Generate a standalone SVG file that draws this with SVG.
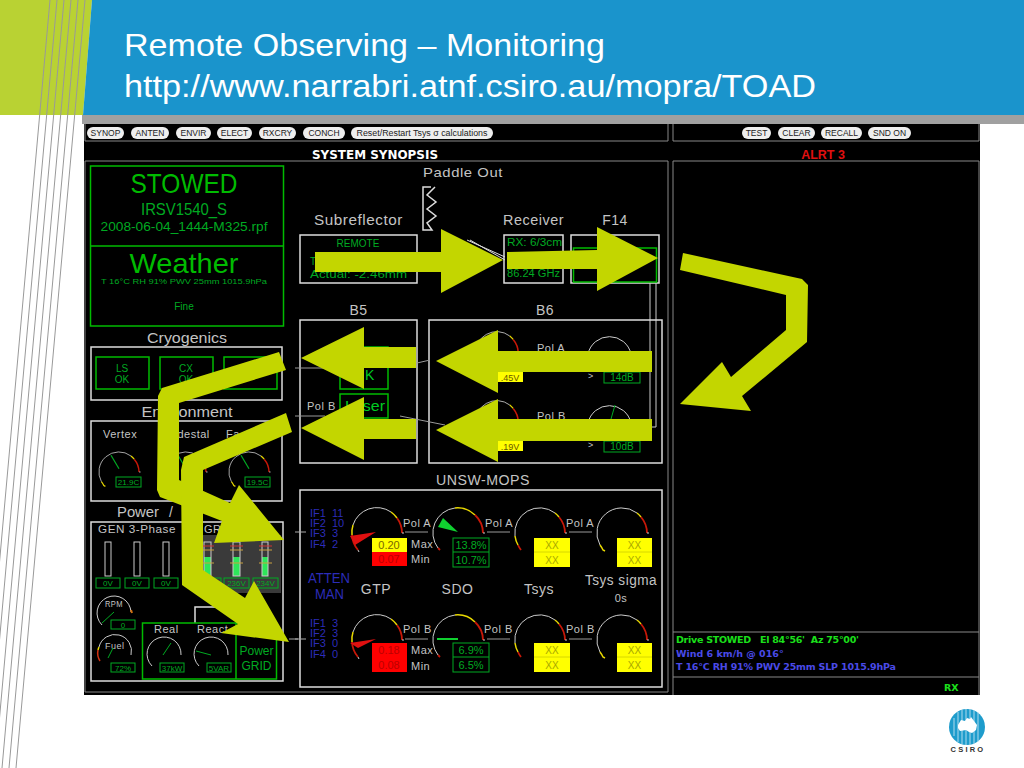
<svg xmlns="http://www.w3.org/2000/svg" xmlns:xlink="http://www.w3.org/1999/xlink" width="1024" height="768" viewBox="0 0 1024 768">
<style>
text{font-family:"Liberation Sans",Arial,sans-serif}
.btn rect{fill:#eee}
.btn text{font-size:8.5px;fill:#222;text-anchor:middle}
.w{fill:none;stroke:#ddd;stroke-width:1.5}
.wt{fill:none;stroke:#ccc;stroke-width:1}
.g{fill:none;stroke:#0b0;stroke-width:1.5}
.gt{fill:none;stroke:#0a2;stroke-width:1}
.l{fill:#c4c4c4;font-size:14px}
.s{fill:#c4c4c4;font-size:11px;letter-spacing:.5px}
.gr{fill:#0a2;font-size:10px}
.bl{fill:#2c2cb8;font-size:11px}
.ctr{text-anchor:middle}
.yb{fill:#ff0}.rb{fill:#f00}
.dk{fill:#a8a800;font-size:10px;text-anchor:middle}
.dr{fill:#b00;font-size:10px;text-anchor:middle}
.ar{fill:none;stroke:#ccc;stroke-width:1}
.ay{fill:none;stroke:#e8d800;stroke-width:1.5}
.ar2{fill:none;stroke:#c81808;stroke-width:1.8}
.arrow{fill:#c3d600}
.rp{font-weight:bold;font-size:9.5px;font-family:"DejaVu Sans",sans-serif}
</style>
<defs>
<g id="g-gtp">
<path class="ar2" d="M-19 17A25 25 0 0 1-25 2"/><path class="ay" d="M-25 2A25 25 0 0 1-24-8"/><path class="ar" d="M-24-8A25 25 0 0 1 14-21"/><path class="ay" d="M14-21A25 25 0 0 1 20-15"/><path class="ar2" d="M20-15A25 25 0 0 1 25 0"/><path class="ar" d="M25 0h2M-19 17l1 2"/>
</g>
<g id="g-sdo">
<path class="ar2" d="M-20 15l2 2"/><path class="ar" d="M-20 15A25 25 0 0 1-3-25"/><path class="ay" d="M-3-25A25 25 0 0 1 17-18"/><path class="ar2" d="M17-18A25 25 0 0 1 25 0"/><path class="ar" d="M25 0h2"/>
</g>
<g id="g-tsys">
<path class="ar2" d="M-19 17A25 25 0 0 1-22 12"/><path class="ay" d="M-22 12A25 25 0 0 1-25 3"/><path class="ar" d="M-25 3A25 25 0 0 1 15-20"/><path class="ay" d="M15-20A25 25 0 0 1 19-16"/><path class="ar2" d="M19-16A25 25 0 0 1 25 0"/><path class="ar" d="M25 0h2"/>
</g>
<g id="g-sig">
<path class="ay" d="M-22 12A25 25 0 0 1-19 17l2 1"/><path class="ar" d="M-22 12A25 25 0 0 1 15-20"/><path class="ay" d="M15-20A25 25 0 0 1 19-16"/><path class="ar2" d="M19-16A25 25 0 0 1 25 0"/><path class="ar" d="M25 0h2"/>
</g>
</defs>

<rect width="1024" height="768" fill="#fff"/>
<g id="header">
<polygon points="0,0 92,0 83,115 0,115" fill="#b9d233"/>
<polygon points="92,0 1024,0 1024,115 83,115" fill="#1a94cc"/>
<g stroke="#999" stroke-width="1">
<path d="M50 0L-19 768M57 0L-12 768M64 0L-5 768M71 0L2 768M78 0L9 768M85 0L16 768"/>
</g>
<text x="124" y="56" fill="#fff" font-size="32" textLength="481" lengthAdjust="spacingAndGlyphs">Remote Observing – Monitoring</text>
<text x="124" y="97" fill="#fff" font-size="32" textLength="692" lengthAdjust="spacingAndGlyphs">http://www.narrabri.atnf.csiro.au/mopra/TOAD</text>
<rect x="82" y="115" width="942" height="9" fill="#a0a0a0"/>
</g>

<g id="screen">
<rect x="84" y="124" width="896" height="571" fill="#000"/>
<path d="M85 124V141H668V124M85 161H668V692H85ZM673 124V141H979V124M673 161H979V695M673 161V695M673 632H979M673 677H979" fill="none" stroke="#888" stroke-width="1"/>
<text x="375" y="159" fill="#fff" font-size="12" font-weight="bold" class="ctr" textLength="126" lengthAdjust="spacingAndGlyphs" style="font-family:'DejaVu Sans',sans-serif">SYSTEM SYNOPSIS</text>
<text x="823" y="159" fill="#e01010" font-size="12.5" class="ctr" font-weight="bold">ALRT 3</text>
</g>

<g id="toolbar" class="btn">
<rect x="87" y="127" width="37" height="12" rx="6"/><text x="105.500" y="136">SYNOP</text>
<rect x="131" y="127" width="38" height="12" rx="6"/><text x="150" y="136">ANTEN</text>
<rect x="176" y="127" width="35" height="12" rx="6"/><text x="193.500" y="136">ENVIR</text>
<rect x="217" y="127" width="35" height="12" rx="6"/><text x="234.500" y="136">ELECT</text>
<rect x="259" y="127" width="37" height="12" rx="6"/><text x="277.500" y="136">RXCRY</text>
<rect x="303" y="127" width="42" height="12" rx="6"/><text x="324" y="136">CONCH</text>
<rect x="351" y="127" width="142" height="12" rx="6"/><text x="422" y="136" textLength="131" lengthAdjust="spacingAndGlyphs">Reset/Restart Tsys σ calculations</text>
<rect x="742" y="127" width="29" height="12" rx="6"/><text x="756.500" y="136">TEST</text>
<rect x="778" y="127" width="37" height="12" rx="6"/><text x="796.500" y="136">CLEAR</text>
<rect x="821" y="127" width="41" height="12" rx="6"/><text x="841.500" y="136">RECALL</text>
<rect x="868" y="127" width="43" height="12" rx="6"/><text x="889.500" y="136">SND ON</text>
</g>

<g id="status">
<rect x="90.500" y="166" width="193" height="160" class="g"/><path d="M90 246H283" class="g"/>
<text x="184" y="193" class="ctr" fill="#0b0" font-size="28" textLength="107" lengthAdjust="spacingAndGlyphs">STOWED</text>
<text x="184" y="215" class="ctr" fill="#0a2" font-size="16.500" textLength="86" lengthAdjust="spacingAndGlyphs">IRSV1540_S</text>
<text x="184" y="231" class="ctr" fill="#0a2" font-size="13" textLength="167" lengthAdjust="spacingAndGlyphs">2008-06-04_1444-M325.rpf</text>
<text x="184" y="273" class="ctr" fill="#0b0" font-size="28" textLength="109" lengthAdjust="spacingAndGlyphs">Weather</text>
<text x="184" y="284" class="ctr" fill="#0a2" font-size="8" textLength="166" lengthAdjust="spacingAndGlyphs">T 16°C RH 91% PWV 25mm 1015.9hPa</text>
<text x="184" y="310" class="ctr" fill="#0a2" font-size="10">Fine</text>
</g>

<g id="cryogenics">
<text x="187" y="343" class="l ctr" textLength="80" lengthAdjust="spacingAndGlyphs">Cryogenics</text>
<rect x="91" y="347" width="191" height="53" class="w"/>
<rect x="96" y="357" width="53" height="32" class="g"/><rect x="160" y="357" width="53" height="32" class="g"/><rect x="224" y="357" width="53" height="32" class="g"/>
<text x="122" y="372" class="gr ctr">LS</text><text x="122" y="383" class="gr ctr">OK</text>
<text x="186" y="372" class="gr ctr">CX</text><text x="186" y="383" class="gr ctr">OK</text>
</g>

<g id="environment">
<text x="187" y="417" class="l ctr" textLength="91" lengthAdjust="spacingAndGlyphs">Environment</text>
<rect x="91" y="421" width="191" height="80" class="w"/>
<text x="103" y="438" class="s">Vertex</text><text x="163" y="438" class="s">Pedestal</text><text x="226" y="438" class="s">Fa</text>
<g transform="translate(119,472) scale(.8)"><use xlink:href="#g-sig"/><path d="M0-4L-10-21" stroke="#0a2" stroke-width="1.5" fill="none"/></g>
<g transform="translate(186,472) scale(.8)"><use xlink:href="#g-sig"/><path d="M0-4L-10-21" stroke="#0a2" stroke-width="1.5" fill="none"/></g>
<g transform="translate(249,472) scale(.8)"><use xlink:href="#g-sig"/><path d="M0-4L-10-21" stroke="#0a2" stroke-width="1.5" fill="none"/></g>
<rect x="116" y="477" width="25" height="10" class="gt"/><text x="128.500" y="485" class="gr ctr" style="font-size:8px">21.9C</text>
<rect x="245" y="477" width="25" height="10" class="gt"/><text x="257.500" y="485" class="gr ctr" style="font-size:8px">19.5C</text>
</g>

<g id="power">
<text x="117" y="517" class="l" textLength="42" lengthAdjust="spacingAndGlyphs">Power</text>
<text x="169" y="517" class="l">/</text>
<rect x="91" y="522" width="192" height="159" class="w"/>
<text x="98" y="533" class="s" textLength="78" lengthAdjust="spacingAndGlyphs">GEN 3-Phase</text>
<rect x="202" y="535" width="79" height="58" fill="#3a3a3a"/>
<text x="204" y="533" class="s">GRID</text>
<g class="wt"><rect x="105" y="542" width="6" height="34"/><rect x="134" y="542" width="6" height="34"/><rect x="163" y="542" width="6" height="34"/></g>
<g fill="#2ee65a"><rect x="204" y="557" width="7" height="19"/><rect x="233" y="557" width="7" height="19"/><rect x="262" y="557" width="6" height="19"/></g>
<g class="wt"><rect x="204" y="542" width="7" height="34"/><rect x="233" y="542" width="7" height="34"/><rect x="262" y="542" width="6" height="34"/></g>
<path d="M201 546H214M230 546H243M259 546H272" stroke="#d03030" stroke-width="1"/>
<path d="M201 550H214M230 550H243M259 550H272M201 563H214M230 563H243M259 563H272" stroke="#c8a040" stroke-width="1"/>
<g class="gt"><rect x="96" y="578" width="24" height="10"/><rect x="125" y="578" width="24" height="10"/><rect x="154" y="578" width="24" height="10"/><rect x="197" y="578" width="24" height="10"/><rect x="224" y="578" width="25" height="10"/><rect x="253" y="578" width="25" height="10"/></g>
<g class="gr ctr" style="font-size:8px"><text x="108" y="586">0V</text><text x="137" y="586">0V</text><text x="166" y="586">0V</text><text x="236.500" y="586">236V</text><text x="265.500" y="586">234V</text></g>
<path d="M102 625A17 17 0 1 1 131 612" class="ar"/><path d="M131 610l1 3" stroke="#d07010" stroke-width="2"/>
<text x="105" y="607" class="s" textLength="18" lengthAdjust="spacingAndGlyphs" style="font-size:9px">RPM</text>
<path d="M102 623L114 612" stroke="#0a2" stroke-width="1"/>
<rect x="111" y="620" width="24" height="9" class="gt"/><text x="123" y="628" class="gr ctr" style="font-size:8px">0</text>
<path d="M100 661A15 15 0 0 1 98 650" stroke="#d03010" stroke-width="1.500" fill="none"/><path d="M98 650A15 15 0 0 1 99 647" stroke="#e8d800" stroke-width="1.500" fill="none"/><path d="M99 647A15 15 0 0 1 131 655" class="ar"/>
<text x="105" y="649" class="s" style="font-size:9px">Fuel</text>
<path d="M108 658L113 648" stroke="#0a2" stroke-width="1"/>
<rect x="111" y="663" width="24" height="9" class="gt"/><text x="123" y="671" class="gr ctr" style="font-size:8px">72%</text>
<path d="M195 623V607H234" class="w"/>
<rect x="142.500" y="623" width="134" height="56" class="g"/><path d="M236 623V679" class="g"/>
<text x="154" y="633" class="s">Real</text><text x="197" y="633" class="s">React</text>
<path d="M152 666A17 17 0 1 1 181 655" class="ar"/><path d="M163 655L171 643" stroke="#0a2" stroke-width="1"/>
<path d="M199 666A17 17 0 1 1 228 655" class="ar"/><path d="M211 655L196 651" stroke="#0a2" stroke-width="1"/>
<rect x="160" y="663" width="24" height="9" class="gt"/><text x="172" y="671" class="gr ctr" style="font-size:8px">37kW</text>
<rect x="207" y="663" width="24" height="9" class="gt"/><text x="219" y="671" class="gr ctr" style="font-size:8px">5VAR</text>
<text x="256.500" y="655" class="gr ctr" style="font-size:12px">Power</text><text x="256.500" y="670" class="gr ctr" style="font-size:12px">GRID</text>
<path d="M289 639H298" stroke="#aaa" stroke-width="1"/>
</g>

<g id="top-row">
<text x="463" y="177" class="s ctr" style="font-size:13px" textLength="80" lengthAdjust="spacingAndGlyphs">Paddle Out</text>
<path d="M431 187H423V230H432L427 223L436 216L427 209L436 202L427 195L435 187" class="w"/>
<text x="358.500" y="225" class="s ctr" style="font-size:14px" textLength="89" lengthAdjust="spacingAndGlyphs">Subreflector</text>
<text x="533.500" y="225" class="s ctr" style="font-size:14px" textLength="61" lengthAdjust="spacingAndGlyphs">Receiver</text>
<text x="615" y="225" class="s ctr" style="font-size:14px">F14</text>
<rect x="300" y="235" width="117" height="48" class="w"/>
<text x="358" y="247" class="gr ctr">REMOTE</text>
<text x="310" y="265" class="gr">T</text>
<text x="310" y="278" class="gr" textLength="97" lengthAdjust="spacingAndGlyphs">Actual: -2.46mm</text>
<rect x="504" y="235" width="59" height="48" class="w"/>
<text x="507" y="246" class="gr" textLength="55" lengthAdjust="spacingAndGlyphs">RX: 6/3cm</text>
<text x="507" y="277" class="gr" textLength="53" lengthAdjust="spacingAndGlyphs">86.24 GHz</text>
<rect x="571" y="235" width="88" height="48" class="w"/>
<rect x="573.500" y="248" width="83" height="34" class="g"/>
<path d="M650 283V427H640M656 283V427H652" class="wt"/>
<text x="358.500" y="315" class="s ctr" style="font-size:14px">B5</text>
<text x="545" y="315" class="s ctr" style="font-size:14px">B6</text>
<path d="M467 240L505 257M470 240L505 260" stroke="#ddd" stroke-width="1"/>
</g>

<g id="b5">
<rect x="300" y="320" width="117" height="143" class="w"/>
<rect x="340" y="347" width="48" height="42" class="g"/><rect x="340" y="394" width="48" height="24" class="g"/>
<text x="365" y="380" fill="#0c2" font-size="14">K</text>
<text x="345" y="411" fill="#0c2" font-size="15" textLength="40" lengthAdjust="spacingAndGlyphs">Laser</text>
<text x="307" y="410" class="s">Pol B</text>
</g>

<g id="b6">
<rect x="429" y="320" width="233" height="143" class="w"/>
<g transform="translate(497,353) scale(.85)"><use xlink:href="#g-tsys"/></g>
<g transform="translate(497,422) scale(.85)"><use xlink:href="#g-tsys"/></g>
<text x="537" y="352" class="s">Pol A</text><text x="537" y="420" class="s">Pol B</text>
<rect x="498" y="372" width="25" height="10" class="yb"/><rect x="498" y="441" width="25" height="10" class="yb"/>
<text x="510" y="381" fill="#665500" font-size="9" class="ctr">.45V</text><text x="510" y="450" fill="#665500" font-size="9" class="ctr">.19V</text>
<path d="M588 354A22 22 0 0 1 631 354M588 423A22 22 0 0 1 631 423" class="ar"/>
<path d="M611 419L615 405" stroke="#0a2" stroke-width="1"/>
<text x="588" y="379" class="s" style="font-size:9px">&gt;</text><text x="588" y="448" class="s" style="font-size:9px">&gt;</text>
<rect x="604" y="372" width="36" height="11" class="gt"/><rect x="604" y="441" width="36" height="11" class="gt"/>
<text x="622" y="381" class="gr ctr">14dB</text><text x="622" y="450" class="gr ctr">10dB</text>
<path d="M295 368H325M295 416H325M417 363L430 360M400 416L445 425" stroke="#999" stroke-width="1" fill="none"/>
</g>

<g id="unsw-mops">
<text x="483" y="485" class="s ctr" style="font-size:14px" textLength="94" lengthAdjust="spacingAndGlyphs">UNSW-MOPS</text>
<rect x="300" y="490" width="362" height="197" class="w"/>
<path d="M295 532H306M295 639H306" stroke="#aaa" stroke-width="1"/>
<g class="bl">
<text x="310" y="517">IF1<tspan x="332">11</tspan></text><text x="310" y="527">IF2<tspan x="332">10</tspan></text><text x="310" y="537">IF3<tspan x="332">3</tspan></text><text x="310" y="548">IF4<tspan x="332">2</tspan></text>
<text x="310" y="627">IF1<tspan x="332">3</tspan></text><text x="310" y="637">IF2<tspan x="332">3</tspan></text><text x="310" y="647">IF3<tspan x="332">0</tspan></text><text x="310" y="658">IF4<tspan x="332">0</tspan></text>
<text x="308" y="583" style="font-size:14px" textLength="42" lengthAdjust="spacingAndGlyphs">ATTEN</text>
<text x="315" y="599" style="font-size:14px" textLength="29" lengthAdjust="spacingAndGlyphs">MAN</text>
</g>
<text x="376" y="594" class="s ctr" style="font-size:14px">GTP</text><text x="457.500" y="594" class="s ctr" style="font-size:14px">SDO</text><text x="539" y="594" class="s ctr" style="font-size:14px">Tsys</text>
<text x="621" y="585" class="s ctr" style="font-size:14px" textLength="72" lengthAdjust="spacingAndGlyphs">Tsys sigma</text><text x="621" y="602" class="s ctr">0s</text>
<use xlink:href="#g-gtp" x="377" y="533"/><use xlink:href="#g-sdo" x="458" y="533"/><use xlink:href="#g-tsys" x="540" y="533"/><use xlink:href="#g-sig" x="622" y="533"/>
<use xlink:href="#g-gtp" x="377" y="640"/><use xlink:href="#g-sdo" x="458" y="640"/><use xlink:href="#g-tsys" x="540" y="640"/><use xlink:href="#g-sig" x="622" y="640"/>
<polygon points="376,532 350,536 355,545" fill="#e01010"/><polygon points="376,639 350,643 358,648" fill="#e01010"/>
<polygon points="458,532 443,518 438,527" fill="#10d030"/><path d="M437 639H458" stroke="#10d030" stroke-width="2"/>
<g class="s">
<text x="403" y="527">Pol A</text><text x="485" y="527">Pol A</text><text x="566" y="527">Pol A</text>
<text x="403" y="633">Pol B</text><text x="484" y="633">Pol B</text><text x="566" y="633">Pol B</text>
<text x="411" y="548">Max</text><text x="411" y="563">Min</text><text x="411" y="654">Max</text><text x="411" y="670">Min</text>
</g>
<path d="M405 532H428M487 532H510M569 532H592M405 639H428M487 639H510M569 639H592" stroke="#999" stroke-width="1"/>
<rect x="372" y="538" width="35" height="14" class="yb"/><rect x="372" y="552" width="35" height="14" class="rb"/>
<rect x="372" y="643" width="35" height="29" class="rb"/>
<text x="389" y="549" class="dk" style="fill:#776600;font-size:11px">0.20</text><text x="389" y="563" class="dr" style="font-size:11px">0.07</text>
<text x="389" y="654" class="dr" style="font-size:11px">0.18</text><text x="389" y="669" class="dr" style="font-size:11px">0.08</text>
<rect x="453" y="538" width="36" height="29" class="gt"/><path d="M453 552H489" class="gt"/>
<rect x="453" y="643" width="36" height="29" class="gt"/><path d="M453 657H489" class="gt"/>
<g class="gr ctr" style="font-size:11px"><text x="471" y="549">13.8%</text><text x="471" y="564">10.7%</text><text x="471" y="654">6.9%</text><text x="471" y="669">6.5%</text></g>
<g class="yb"><rect x="534" y="538" width="36" height="29"/><rect x="617" y="538" width="35" height="29"/><rect x="534" y="643" width="36" height="29"/><rect x="617" y="643" width="35" height="29"/></g>
<path d="M534 552H570M617 552H652M534 657H570M617 657H652" stroke="#d8d800" stroke-width="1"/>
<g class="dk"><text x="552" y="549">XX</text><text x="552" y="564">XX</text><text x="634.500" y="549">XX</text><text x="634.500" y="564">XX</text><text x="552" y="654">XX</text><text x="552" y="669">XX</text><text x="634.500" y="654">XX</text><text x="634.500" y="669">XX</text></g>
</g>

<g id="report">
<text x="676" y="643" class="rp" fill="#1be01b" textLength="183" lengthAdjust="spacing" xml:space="preserve">Drive STOWED   El 84°56'  Az 75°00'</text>
<text x="676" y="657" class="rp" fill="#4a4ae8">Wind 6 km/h @ 016°</text>
<text x="676" y="670" class="rp" fill="#4a4ae8" textLength="220" lengthAdjust="spacing">T 16°C RH 91% PWV 25mm SLP 1015.9hPa</text>
<text x="944" y="691" class="rp" fill="#1be01b">RX</text>
</g>

<g id="connectors" class="arrow">
<polygon points="315,252 441,252 441,229 503,260 441,293 441,272 315,272"/>
<polygon points="507,252 597,250 597,227 658,258 597,291 597,269 507,269"/>
<polygon points="416,347 364,347 364,327 301,358 364,389 364,368 416,368"/>
<polygon points="416,419 364,419 364,397 301,428 364,460 364,439 416,439"/>
<polygon points="652,351 498,351 498,330 436,361 498,393 498,372 652,372"/>
<polygon points="652,419 498,419 498,399 436,430 498,462 498,441 652,441"/>
<polygon points="683,253 802,279 808,285 807,342 742,396 751,411 680,404 722,362 731,377 786,330 786,295 680,270"/>
<polygon points="279,352 286,370 179,403 179,480 230,503 239,485 284,540 214,543 222,521 160,497 157,490 158,396 162,388"/>
<polygon points="286,413 292,432 203,470 203,570 245,598 254,581 289,642 221,633 238,624 182,585 181,470 184,457"/>
</g>

<g id="logo">
<circle cx="967" cy="727" r="18" fill="#1e9ccc"/>
<path d="M954 718v18M958 712v30M962 710v34M966 709v36M970 709v36M974 710v34M978 712v30" stroke="#bfe3f2" stroke-width="0.9"/>
<path d="M958 725l3-5 4 1 2-3 3 1 1-2 3 4 3 4-1 5-4 3-3-1-3-2-6 1-2-3z" fill="#fff"/>
<text x="968" y="752" class="ctr" fill="#333" font-size="7.500" font-weight="bold" letter-spacing="2.2">CSIRO</text>
</g>
</svg>
